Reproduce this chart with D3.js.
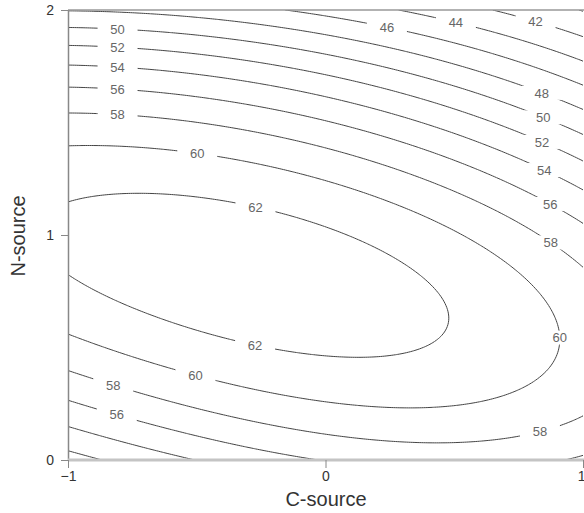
<!DOCTYPE html>
<html>
<head>
<meta charset="utf-8">
<script src="https://cdn.jsdelivr.net/npm/d3@7"></script>
<style>
  body { margin: 0; background: #fff; }
  text { font-family: Arial, "Liberation Sans", sans-serif; }
</style>
</head>
<body>
<svg id="chart" width="584" height="513"></svg>
<script>
// response surface: response = sum coef * C^a * (N - 1)^b
const surfacePowers = [[0, 0], [1, 0], [0, 1], [2, 0], [1, 1], [0, 2], [3, 0], [2, 1], [1, 2], [0, 3], [4, 0], [3, 1], [2, 2], [1, 3], [0, 4]];
const surfaceCoef = [62.2478, -2.7173, -6.3627, -2.7512, -5.9647, -12.4283, -0.1558, 0.5886, 2.0020, 0.9970, -0.0173, 0.5503, 0.7276, 2.2885, 0.8990];

const levels = [40, 42, 44, 46, 48, 50, 52, 54, 56, 58, 60, 62];

// where the software put each contour label: [level, C, N]
const labelSpots = [
  [50, -0.81, 1.916], [52, -0.81, 1.822], [54, -0.81, 1.738], [56, -0.81, 1.64], [58, -0.81, 1.507],
  [60, -0.5, 1.356], [62, -0.27, 1.133], [62, -0.28, 0.489], [60, -0.5, 0.391],
  [58, -0.81, 0.378], [56, -0.81, 0.209],
  [46, 0.243, 1.933], [44, 0.503, 1.933], [42, 0.814, 1.933],
  [48, 0.852, 1.671], [50, 0.852, 1.547], [52, 0.852, 1.44], [54, 0.852, 1.298],
  [56, 0.852, 1.102], [58, 0.852, 0.924], [60, 0.911, 0.542], [58, 0.833, 0.142]
];

const xTicks = [-1, 0, 1];
const yTicks = [0, 1, 2];

const svg = d3.select("#chart");
const x = d3.scaleLinear().domain([-1, 1]).range([68, 583]);
const y = d3.scaleLinear().domain([0, 2]).range([460, 10]);

const surface = (c, nv) => d3.sum(surfacePowers, ([a, b], i) => surfaceCoef[i] * c ** a * (nv - 1) ** b);

// sample the surface on a grid and trace the contours
const n = 240;
const grid = new Float64Array(n * n);
for (let j = 0; j < n; j++)
  for (let i = 0; i < n; i++)
    grid[j * n + i] = surface(-1 + 2 * i / (n - 1), 2 * j / (n - 1));

const contours = d3.contours().size([n, n]).thresholds(levels)(grid);
const gx = c => x(-1 + 2 * (c - 0.5) / (n - 1));
const gy = c => y(2 * (c - 0.5) / (n - 1));
const path = d3.geoPath(d3.geoTransform({
  point(px, py) { this.stream.point(gx(px), gy(py)); }
}));

svg.append("clipPath").attr("id", "plot")
  .append("rect").attr("x", 68).attr("y", 10).attr("width", 515).attr("height", 450);

svg.append("g").attr("clip-path", "url(#plot)")
  .selectAll("path").data(contours).join("path")
  .attr("d", path)
  .attr("fill", "none")
  .attr("stroke", "#444")
  .attr("stroke-width", 1);

// contour labels sit on the nearest traced point, with a white gap behind
const labels = labelSpots.map(([lv, c, nv]) => {
  const cont = contours.find(d => d.value === lv);
  const tx = x(c), ty = y(nv);
  let best = [tx, ty], bestD = Infinity;
  if (cont) {
    cont.coordinates.forEach(poly => poly.forEach(ring => ring.forEach(([px, py]) => {
      if (px <= 0 || px >= n || py <= 0 || py >= n) return;
      const sx = gx(px), sy = gy(py);
      const dd = (sx - tx) ** 2 + (sy - ty) ** 2;
      if (dd < bestD) { bestD = dd; best = [sx, sy]; }
    })));
  }
  return { lv, px: best[0], py: best[1] };
});

const lab = svg.append("g").attr("clip-path", "url(#plot)")
  .selectAll("g").data(labels).join("g")
  .attr("transform", d => `translate(${d.px},${d.py})`);
lab.append("rect")
  .attr("x", -20).attr("y", -7).attr("width", 40).attr("height", 14)
  .attr("fill", "#fff");
lab.append("text")
  .attr("text-anchor", "middle")
  .attr("dy", "0.36em")
  .attr("font-size", 13)
  .attr("fill", "#666")
  .text(d => d.lv);

// frame and axes
svg.append("line")
  .attr("x1", 68).attr("x2", 584).attr("y1", 10).attr("y2", 10)
  .attr("stroke", "#999").attr("stroke-width", 1.5);

const yAxis = svg.append("g")
  .attr("transform", "translate(68,0)")
  .call(d3.axisLeft(y).tickValues(yTicks).tickFormat(d3.format("d")).tickSize(7).tickSizeOuter(0).tickPadding(7));
yAxis.select(".domain").attr("stroke", "#888").attr("stroke-width", 1.5);
yAxis.selectAll(".tick line").attr("stroke", "#888");
yAxis.selectAll(".tick text").attr("font-size", 14).attr("fill", "#333")
  .attr("font-family", "Arial, 'Liberation Sans', sans-serif");

const xAxis = svg.append("g")
  .attr("transform", "translate(0,460)")
  .call(d3.axisBottom(x).tickValues(xTicks).tickFormat(d3.format("d")).tickSize(8).tickSizeOuter(0).tickPadding(3));
xAxis.select(".domain").attr("stroke", "#c4c4c4").attr("stroke-width", 3)
  .attr("d", "M68,0H584");
xAxis.selectAll(".tick line").attr("stroke", "#888");
xAxis.selectAll(".tick text").attr("font-size", 14).attr("fill", "#333")
  .attr("font-family", "Arial, 'Liberation Sans', sans-serif")
  .attr("text-anchor", d => d === 1 ? "end" : "middle")
  .attr("dx", d => d === 1 ? 2 : 0);

svg.append("text")
  .attr("x", 326).attr("y", 506)
  .attr("text-anchor", "middle")
  .attr("font-size", 20)
  .attr("fill", "#333")
  .text("C-source");

svg.append("text")
  .attr("transform", "translate(25,236) rotate(-90)")
  .attr("text-anchor", "middle")
  .attr("font-size", 20)
  .attr("fill", "#333")
  .text("N-source");
</script>
</body>
</html>
